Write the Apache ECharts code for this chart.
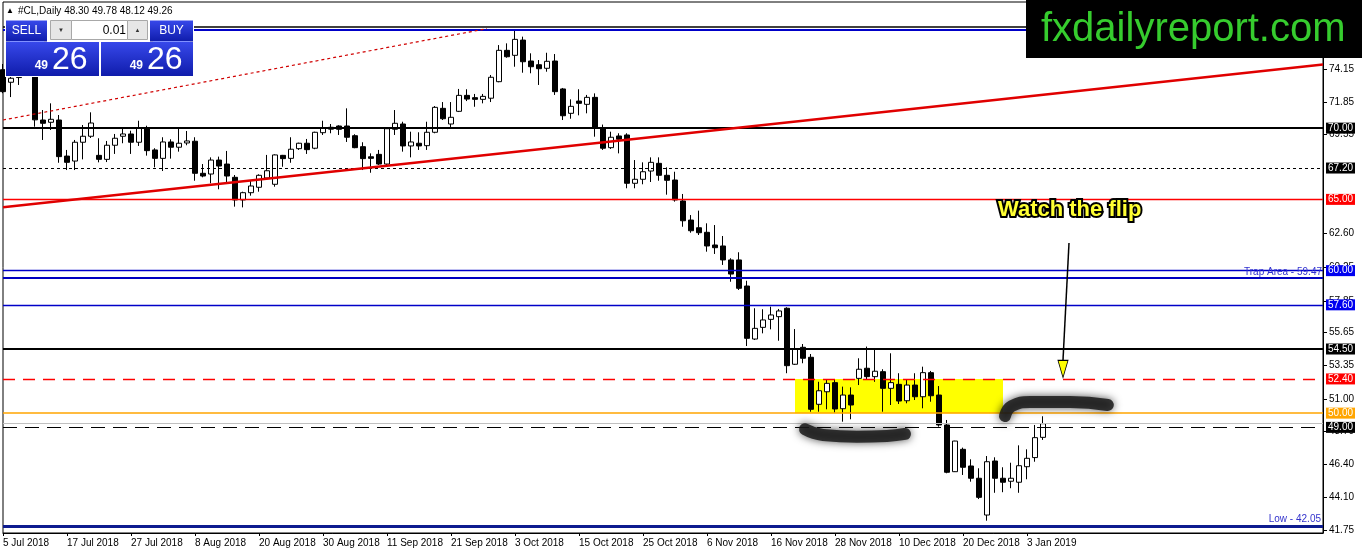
<!DOCTYPE html>
<html><head><meta charset="utf-8">
<script src="https://cdn.jsdelivr.net/npm/echarts@6/dist/echarts.min.js"></script>
<style>html,body{margin:0;padding:0;background:#fff}#c{width:1362px;height:554px}</style>
</head><body><div id="c"></div>
<script>
// ---------- DATA ----------
const firstDay = '2018-07-05';
const closedDays = ['2018-12-25', '2019-01-01'];
const barCount = 131;
const slotCount = 166;

const opens = [74.10,73.22,73.55,73.90,74.15,70.57,70.41,70.57,68.04,67.69,69.01,69.43,68.09,67.81,68.80,69.43,69.59,69.01,70.03,68.47,
67.88,69.03,68.66,68.96,69.08,66.83,66.78,67.76,67.48,66.55,64.96,65.47,65.85,66.50,66.06,68.09,67.88,68.56,68.94,68.59,
69.68,70.06,70.15,70.15,69.47,68.70,67.99,68.16,67.48,69.92,70.29,68.75,68.94,68.77,69.71,71.39,70.29,71.18,72.30,72.14,
72.02,72.10,73.26,75.46,75.11,76.18,74.71,74.45,74.20,74.71,72.75,71.04,71.90,71.67,72.16,70.00,68.63,69.45,69.52,66.13,
66.41,66.99,67.53,66.69,66.36,64.89,63.55,63.01,62.69,61.80,61.73,60.75,60.75,58.92,55.20,56.02,56.58,56.77,57.36,53.43,
54.62,53.92,50.62,51.50,52.14,50.31,51.27,52.44,53.15,52.56,52.91,51.74,52.02,50.87,51.97,51.15,52.84,51.27,49.17,45.89,
47.46,46.29,45.43,42.85,46.64,45.43,45.22,45.15,46.24,46.88,48.30];
const highs = [74.50,73.95,74.20,74.70,74.45,71.27,71.74,70.92,68.47,69.17,70.22,71.11,69.29,69.10,69.59,69.94,69.82,70.52,70.17,68.59,
69.36,69.22,69.96,69.80,69.36,67.48,67.95,68.00,68.40,66.71,65.54,66.29,66.76,68.12,68.16,68.12,69.36,68.98,69.24,69.75,
70.52,70.29,70.20,71.39,69.57,69.01,68.23,68.47,70.06,71.27,70.45,69.75,69.71,70.45,71.55,71.83,71.83,72.75,72.73,72.40,
72.40,73.73,75.83,75.95,76.89,76.42,75.25,74.78,75.29,75.20,72.82,72.02,72.73,72.33,72.44,70.25,69.75,69.64,69.64,67.76,
67.60,67.95,67.95,67.25,66.94,65.38,63.90,64.21,63.32,63.20,62.43,60.87,61.29,59.29,57.36,57.29,57.47,57.31,57.43,55.90,
54.85,54.15,52.20,52.33,52.37,51.86,51.81,53.85,54.67,54.55,53.08,54.20,52.80,52.33,52.80,53.26,52.96,51.90,49.52,48.06,
47.58,46.76,46.13,46.99,46.90,46.20,46.52,47.74,47.46,49.17,49.78];
const lows = [72.45,72.18,73.03,73.75,70.10,69.17,69.87,67.57,67.06,67.06,67.81,69.31,67.60,67.62,68.19,68.94,68.19,68.75,68.07,67.25,
66.99,67.86,68.35,68.80,66.31,66.55,66.13,65.71,66.13,64.49,64.44,65.26,65.54,66.41,65.89,67.29,67.57,68.47,68.19,68.52,
69.52,69.64,69.52,69.03,68.59,67.06,66.87,67.41,67.41,69.52,68.35,67.95,68.47,68.47,69.64,70.57,70.06,71.13,71.90,71.50,
71.74,71.83,73.22,74.94,74.31,73.89,73.85,73.03,73.96,72.33,70.57,70.66,70.90,71.04,69.40,68.47,68.54,68.23,65.78,65.78,
66.06,66.22,66.31,65.33,64.84,63.08,62.66,62.50,61.33,61.17,60.40,59.22,58.64,54.71,55.13,55.60,55.88,55.08,52.80,53.38,
53.50,50.10,50.10,50.27,50.03,49.40,49.57,51.97,52.37,52.20,50.10,50.57,50.64,50.69,50.92,50.34,50.80,49.05,45.78,45.87,
45.66,45.19,43.97,42.45,44.41,44.45,44.73,44.41,45.36,46.59,48.12];
const closes = [72.56,73.50,73.62,74.20,70.58,70.34,70.62,68.00,67.60,69.01,69.43,70.36,67.81,68.80,69.29,69.59,69.01,69.99,68.42,67.88,
69.03,68.66,68.94,69.10,66.83,66.64,67.76,67.34,66.64,64.96,65.47,65.94,66.69,67.01,68.12,67.86,68.52,68.94,68.49,69.71,
69.99,69.93,69.92,69.36,68.63,67.86,67.88,67.48,69.96,70.34,68.75,69.03,68.75,69.71,71.46,70.66,70.76,72.30,72.04,72.02,
72.23,73.57,75.46,75.01,76.23,74.66,74.31,74.17,74.69,72.56,70.87,71.53,71.74,72.16,70.06,68.59,69.36,69.22,66.13,66.41,
66.94,67.60,66.69,66.34,64.96,63.50,62.80,62.66,61.73,61.61,60.75,59.76,58.76,55.25,55.95,56.54,56.89,57.17,53.33,54.48,
53.85,50.27,51.57,52.09,50.29,51.27,50.57,53.08,52.56,52.94,51.74,52.14,50.85,51.97,51.15,52.84,51.22,49.17,45.85,48.04,
46.20,45.43,44.09,46.59,45.43,45.15,45.43,46.31,46.83,48.28,49.26];

const priceTicks = [74.15,71.85,69.55,62.60,60.25,57.85,55.65,53.35,51.00,48.70,46.40,44.10,41.75];
const boxLevels = [70.00,67.20,65.00,60.00,57.60,54.50,52.40,50.00,49.00];
const highLines = [77.15,76.92];
const trapLevel = 59.47;
const bidLevel = 49.26;
const lowLevel = 42.05;

// annotations in [bar slot, price]
const redTrend = [[0,64.45],[165,74.46]];
const redDotTrend = [[0,70.57],[60.5,76.98]];
const arrowLine = [[133.25,61.94],[132.5,53.73]];
const arrowHead = [[132.5,53.10]];
const zone = [[99,52.40],[125,50.00]];
const stroke1 = [[100.25,48.87],[102.5,48.47],[106.75,48.35],[110.5,48.40],[112.75,48.54]];
const stroke2 = [[125.25,49.80],[126.1,50.50],[128.4,50.78],[133.4,50.78],[138.1,50.57]];

// ---------- BUILD ----------
const MON = ['Jan','Feb','Mar','Apr','May','Jun','Jul','Aug','Sep','Oct','Nov','Dec'];
function buildDays(start, count, skip) {
  const out = []; const d = new Date(start + 'T00:00:00Z');
  while (out.length < count) {
    const wd = d.getUTCDay(); const iso = d.toISOString().slice(0,10);
    if (wd !== 0 && wd !== 6 && !skip.includes(iso)) out.push(d.getUTCDate() + ' ' + MON[d.getUTCMonth()] + ' ' + d.getUTCFullYear());
    d.setUTCDate(d.getUTCDate() + 1);
  }
  return out;
}
const dates = buildDays(firstDay, barCount, closedDays);
const cats = dates.concat(Array(slotCount - barCount).fill(''));
const ohlc = opens.map((o,i) => [o, closes[i], lows[i], highs[i]]);
const last = barCount - 1;
const showDate = (idx, val) => idx % 8 === 0 && val !== '';

const FONT = 'Liberation Sans, Arial, sans-serif';
const levelStyle = {
  '70.00': {c:'#000', w:2, t:'solid', bg:'#000'},
  '67.20': {c:'#000', w:1, t:[3,3], bg:'#000'},
  '65.00': {c:'#ff0000', w:1.4, t:'solid', bg:'#ff0000'},
  '60.00': {c:'#0000c8', w:1.3, t:'solid', bg:'#0000f0'},
  '57.60': {c:'#0000c8', w:1.3, t:'solid', bg:'#0000f0'},
  '54.50': {c:'#000', w:2, t:'solid', bg:'#000'},
  '52.40': {c:'#ff0000', w:1.4, t:[12,8], bg:'#ff0000'},
  '50.00': {c:'#ffa500', w:1.5, t:'solid', bg:'#ffa500'},
  '49.00': {c:'#000', w:1, t:[14,8], bg:'#000'}
};
const markLines = [];
boxLevels.forEach(v => {
  const s = levelStyle[v.toFixed(2)];
  markLines.push({yAxis: v, lineStyle:{color:s.c, width:s.w, type:s.t, opacity:1},
    label:{show:true, position:'end', distance:3, formatter:v.toFixed(2), backgroundColor:s.bg, color:'#fff',
      padding:[1,2,0,2], fontSize:10, fontFamily:FONT, lineHeight:10}});
});
markLines.push({yAxis: highLines[0], lineStyle:{color:'#000', width:1.5, type:'solid'}, label:{show:false}});
markLines.push({yAxis: highLines[1], lineStyle:{color:'#0000c8', width:2, type:'solid'}, label:{show:false}});
markLines.push({yAxis: trapLevel, lineStyle:{color:'#0000c0', width:2, type:'solid'},
  label:{show:true, position:'insideEndTop', distance:1, formatter:'Trap Area - ' + trapLevel.toFixed(2), color:'#3030d0', fontSize:10, fontFamily:FONT}});
markLines.push({yAxis: bidLevel, lineStyle:{color:'#c0c0c0', width:1, type:'solid'}, label:{show:false}});
markLines.push({yAxis: lowLevel, lineStyle:{color:'#0d1b8f', width:3, type:'solid'},
  label:{show:true, position:'insideEndTop', distance:2, formatter:'Low - ' + lowLevel.toFixed(2), color:'#3333cc', fontSize:10, fontFamily:FONT}});

const blueGrad = {type:'linear', x:0, y:0, x2:0, y2:1, colorStops:[{offset:0,color:'#3748ea'},{offset:1,color:'#0f1cab'}]};
const bigInt = String(Math.floor(closes[last]));
const bigFrac = closes[last].toFixed(2).split('.')[1];
const header = '#CL,Daily ' + [opens[last], highs[last], lows[last], closes[last]].map(v => v.toFixed(2)).join(' ');

const chart = echarts.init(document.getElementById('c'), null, {renderer:'canvas'});
chart.setOption({
  animation: false,
  backgroundColor: '#fff',
  grid: {left:3, right:39, top:2, bottom:21, show:true, borderColor:'#000', borderWidth:1, backgroundColor:'#fff'},
  xAxis: [
    {type:'category', data:cats, boundaryGap:false,
     axisLine:{show:true, onZero:false, lineStyle:{color:'#000', width:1}},
     axisTick:{show:true, interval:showDate, length:3, lineStyle:{color:'#000'}},
     axisLabel:{interval:showDate, align:'left', fontSize:10, color:'#000', fontFamily:FONT, margin:5, hideOverlap:false},
     splitLine:{show:false}},
    {type:'value', min:0, max:slotCount - 1, show:false, axisLine:{onZero:false}}
  ],
  yAxis: [{type:'value', position:'right', min:41.588, max:78.852, scale:true,
    splitLine:{show:false},
    axisLine:{show:true, onZero:false, lineStyle:{color:'#000', width:1}},
    axisTick:{show:true, customValues:priceTicks, length:4, lineStyle:{color:'#000'}},
    axisLabel:{customValues:priceTicks, formatter:v => v.toFixed(2), color:'#000', fontSize:10, fontFamily:FONT, margin:6}}],
  series: [
    {type:'line', xAxisIndex:1, data:[], z:1, silent:true,
     markArea:{silent:true, itemStyle:{color:'#ffff00', opacity:1}, data:[[{coord:zone[0]},{coord:zone[1]}]]}},
    {type:'candlestick', name:'CL', data:ohlc, barWidth:5, clip:true, z:3,
     itemStyle:{color:'#fff', color0:'#000', borderColor:'#000', borderColor0:'#000', borderWidth:1}},
    {type:'line', xAxisIndex:1, data:[], z:4, silent:true,
     markLine:{silent:true, symbol:['none','none'], animation:false, data:markLines}},
    {type:'line', xAxisIndex:1, data:redTrend, symbol:'none', z:5, silent:true, clip:true,
     lineStyle:{color:'#e00000', width:2.5}},
    {type:'line', xAxisIndex:1, data:redDotTrend, symbol:'none', z:5, silent:true, clip:true,
     lineStyle:{color:'#d00000', width:1.2, type:[3,3]}},
    {type:'line', xAxisIndex:1, data:stroke1, symbol:'none', smooth:true, z:6, silent:true,
     lineStyle:{color:'#1a1a1a', width:12, cap:'round', opacity:0.85, shadowBlur:8, shadowColor:'rgba(0,0,0,0.8)'}},
    {type:'line', xAxisIndex:1, data:stroke2, symbol:'none', smooth:true, z:6, silent:true,
     lineStyle:{color:'#1a1a1a', width:12, cap:'round', opacity:0.85, shadowBlur:8, shadowColor:'rgba(0,0,0,0.8)'}},
    {type:'line', xAxisIndex:1, data:arrowLine, symbol:'none', z:6, silent:true,
     lineStyle:{color:'#000', width:1.5}},
    {type:'scatter', xAxisIndex:1, data:arrowHead, symbol:'triangle', symbolRotate:180, symbolSize:[10,17], z:7, silent:true,
     itemStyle:{color:'#ffff00', borderColor:'#000', borderWidth:1, opacity:1}}
  ],
  graphic: [
    {type:'rect', z:100, shape:{x:1026, y:0, width:336, height:58}, style:{fill:'#000'}},
    {type:'text', z:101, x:1041, y:30, style:{text:'fxdailyreport.com', font:'40px ' + FONT, fill:'#36cc2e', verticalAlign:'middle'}},
    {type:'text', z:101, x:998, y:210, style:{text:'Watch the flip', font:'bold 22px ' + FONT, fill:'#ffff33', stroke:'#000', lineWidth:4, verticalAlign:'middle'}},
    {type:'text', z:101, x:6, y:11, style:{text:'\u25B2', font:'8px ' + FONT, fill:'#000', verticalAlign:'middle'}},
    {type:'text', z:101, x:18, y:11, style:{text:header, font:'10px ' + FONT, fill:'#000', verticalAlign:'middle'}},
    {type:'rect', z:100, shape:{x:5, y:19, width:189, height:58}, style:{fill:'#fff'}},
    {type:'rect', z:101, shape:{x:6, y:20.5, width:41, height:21}, style:{fill:blueGrad}},
    {type:'text', z:102, x:26.5, y:31, style:{text:'SELL', font:'12px ' + FONT, fill:'#fff', align:'center', verticalAlign:'middle'}},
    {type:'rect', z:101, shape:{x:150, y:20.5, width:43, height:21}, style:{fill:blueGrad}},
    {type:'text', z:102, x:171.5, y:31, style:{text:'BUY', font:'12px ' + FONT, fill:'#fff', align:'center', verticalAlign:'middle'}},
    {type:'rect', z:101, shape:{x:50.5, y:20.5, width:21, height:19}, style:{fill:'#e6e6e6', stroke:'#a8a8a8', lineWidth:1}},
    {type:'text', z:102, x:61, y:30, style:{text:'\u25BC', font:'6px ' + FONT, fill:'#333', align:'center', verticalAlign:'middle'}},
    {type:'rect', z:101, shape:{x:71.5, y:20.5, width:56, height:19}, style:{fill:'#fff', stroke:'#a8a8a8', lineWidth:1}},
    {type:'text', z:102, x:126, y:30.5, style:{text:'0.01', font:'12px ' + FONT, fill:'#000', align:'right', verticalAlign:'middle'}},
    {type:'rect', z:101, shape:{x:127.5, y:20.5, width:20, height:19}, style:{fill:'#e6e6e6', stroke:'#a8a8a8', lineWidth:1}},
    {type:'text', z:102, x:137.5, y:30, style:{text:'\u25B2', font:'6px ' + FONT, fill:'#333', align:'center', verticalAlign:'middle'}},
    {type:'rect', z:101, shape:{x:6, y:42, width:93, height:34}, style:{fill:blueGrad}},
    {type:'rect', z:101, shape:{x:101, y:42, width:92, height:34}, style:{fill:blueGrad}},
    {type:'line', z:102, shape:{x1:10, y1:41.5, x2:44, y2:41.5}, style:{stroke:'#8090ff', lineWidth:1}},
    {type:'line', z:102, shape:{x1:153, y1:41.5, x2:190, y2:41.5}, style:{stroke:'#8090ff', lineWidth:1}},
    {type:'text', z:102, x:48, y:66, style:{text:bigInt, font:'bold 12px ' + FONT, fill:'#fff', align:'right', verticalAlign:'middle'}},
    {type:'text', z:102, x:52, y:60, style:{text:bigFrac, font:'32px ' + FONT, fill:'#fff', verticalAlign:'middle'}},
    {type:'text', z:102, x:143, y:66, style:{text:bigInt, font:'bold 12px ' + FONT, fill:'#fff', align:'right', verticalAlign:'middle'}},
    {type:'text', z:102, x:147, y:60, style:{text:bigFrac, font:'32px ' + FONT, fill:'#fff', verticalAlign:'middle'}}
  ]
});
</script></body></html>
